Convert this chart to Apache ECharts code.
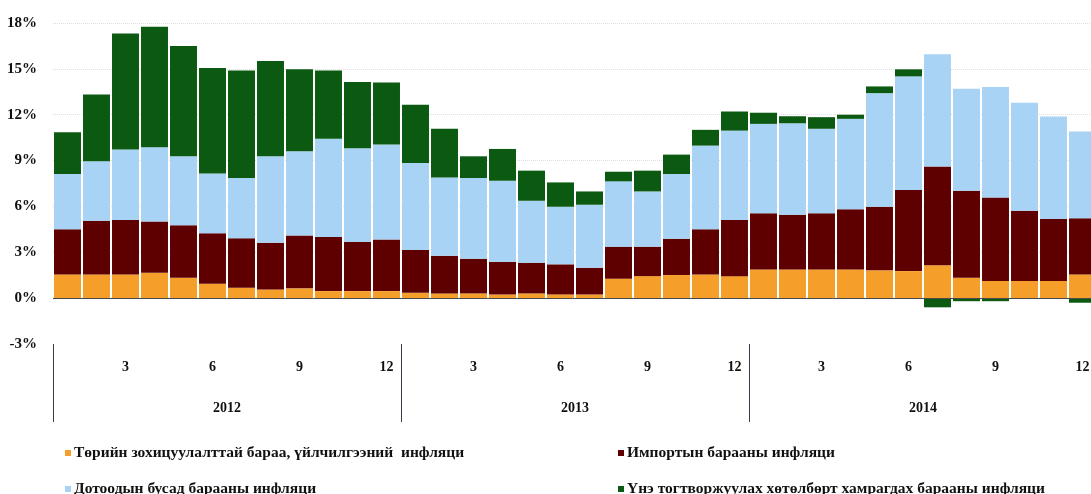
<!DOCTYPE html>
<html>
<head>
<meta charset="utf-8">
<title>Инфляцийн задаргаа</title>
<script src="https://cdn.jsdelivr.net/npm/echarts@6/dist/echarts.min.js"></script>
<style>
html, body { margin: 0; padding: 0; background: #fff; }
#chart { width: 1091px; height: 494px; }
</style>
</head>
<body>
<div id="chart"></div>
<script>
var years = ['2012', '2013', '2014'];
var months = ['1', '2', '3', '4', '5', '6', '7', '8', '9', '10', '11', '12'];
var yTicks = [-3, 0, 3, 6, 9, 12, 15, 18];

var seriesNames = [
	'Төрийн зохицуулалттай бараа, үйлчилгээний  инфляци',
	'Импортын барааны инфляци',
	'Дотоодын бусад барааны инфляци',
	'Үнэ тогтворжуулах хөтөлбөрт хамрагдах барааны инфляци'
];

// 2012.1 - 2014.12, хувь нэмэр (%)
var regulated = [
	1.55, 1.55, 1.55, 1.66, 1.33, 0.94, 0.68, 0.57, 0.64, 0.46, 0.46, 0.46,
	0.35, 0.31, 0.31, 0.24, 0.31, 0.24, 0.24, 1.27, 1.44, 1.51, 1.55, 1.44,
	1.88, 1.88, 1.88, 1.88, 1.82, 1.77, 2.15, 1.33, 1.12, 1.12, 1.12, 1.55
];
var imported = [
	2.96, 3.51, 3.57, 3.35, 3.44, 3.31, 3.24, 3.06, 3.45, 3.54, 3.22, 3.37,
	2.80, 2.47, 2.27, 2.14, 2.01, 1.97, 1.75, 2.10, 1.93, 2.38, 2.96, 3.68,
	3.68, 3.57, 3.68, 3.94, 4.16, 5.30, 6.47, 5.70, 5.47, 4.59, 4.05, 3.68
];
var domestic = [
	3.61, 3.89, 4.60, 4.86, 4.51, 3.91, 3.94, 5.65, 5.52, 6.42, 6.12, 6.22,
	5.69, 5.12, 5.28, 5.30, 4.05, 3.77, 4.12, 4.27, 3.61, 4.23, 5.47, 5.84,
	5.84, 5.99, 5.52, 5.91, 7.43, 7.44, 7.34, 6.67, 7.22, 7.07, 6.71, 5.67
];
var stabilization = [
	2.73, 4.38, 7.59, 7.88, 7.22, 6.90, 7.04, 6.24, 5.36, 4.48, 4.34, 4.05,
	3.81, 3.18, 1.42, 2.08, 1.97, 1.59, 0.87, 0.63, 1.36, 1.27, 1.03, 1.25,
	0.73, 0.46, 0.76, 0.27, 0.44, 0.46, -0.60, -0.20, -0.20, -0.03, 0.00, -0.30
];

var colors = ['#F59E2A', '#5E0000', '#A9D3F5', '#0C5A12'];
var values = [regulated, imported, domestic, stabilization];

var categories = [];
years.forEach(function(y){
	months.forEach(function(m){
		categories.push(y + '-' + m);
	});
});

var chart = echarts.init(document.getElementById('chart'));

var fontFamily = '"Liberation Serif", "DejaVu Serif", serif';

var series = seriesNames.map(function(name, i){
	var s = {
		name: name,
		type: 'bar',
		stack: 'total',
		barCategoryGap: '7%',
		itemStyle: {color: colors[i]},
		data: values[i]
	};
	if (i === 0) {
		s.markLine = {
			silent: true,
			symbol: 'none',
			label: {show: false},
			lineStyle: {color: '#4a4a4a', width: 1, type: 'solid'},
			data: [{yAxis: 0}]
		};
	}
	return s;
});

// 2 мөр, 2 багана
var legendPos = [
	{left: 60, top: 440},
	{left: 613, top: 440},
	{left: 60, top: 476},
	{left: 613, top: 476}
];
var legends = seriesNames.map(function(name, i){
	return {
		data: [name],
		left: legendPos[i].left,
		top: legendPos[i].top,
		itemWidth: 6,
		itemHeight: 6,
		itemGap: 0,
		icon: 'rect',
		selectedMode: false,
		textStyle: {fontFamily: fontFamily, fontWeight: 'bold', fontSize: 15.5, color: '#111', padding: [0, 0, 0, -2]}
	};
});

var option = {
	animation: false,
	grid: {left: 53, right: -6, top: 23, bottom: 150, containLabel: false, outerBoundsMode: 'none'},
	legend: legends,
	xAxis: [
		{
			type: 'category',
			data: categories,
			position: 'bottom',
			axisLine: {show: false},
			axisTick: {show: false},
			axisLabel: {
				interval: function(index){ return (index + 1) % 3 === 0; },
				formatter: function(v){ return v.split('-')[1]; },
				margin: 16,
				fontFamily: fontFamily,
				fontWeight: 'bold',
				fontSize: 14,
				color: '#111'
			}
		},
		{
			type: 'category',
			data: years,
			position: 'bottom',
			axisLine: {show: false},
			axisTick: {show: true, interval: 0, length: 78, lineStyle: {color: '#3a3a4a', width: 1}},
			axisLabel: {
				margin: 57,
				fontFamily: fontFamily,
				fontWeight: 'bold',
				fontSize: 14,
				color: '#111'
			}
		}
	],
	yAxis: {
		type: 'value',
		min: yTicks[0],
		max: yTicks[yTicks.length - 1],
		interval: 3,
		axisLine: {show: false},
		axisTick: {show: false},
		splitLine: {showMinLine: false, lineStyle: {color: '#dedede', type: 'dotted', width: 1}},
		axisLabel: {
			formatter: '{value}%',
			margin: 16,
			fontFamily: fontFamily,
			fontWeight: 'bold',
			fontSize: 15,
			color: '#111'
		}
	},
	series: series
};

chart.setOption(option);
</script>
</body>
</html>
